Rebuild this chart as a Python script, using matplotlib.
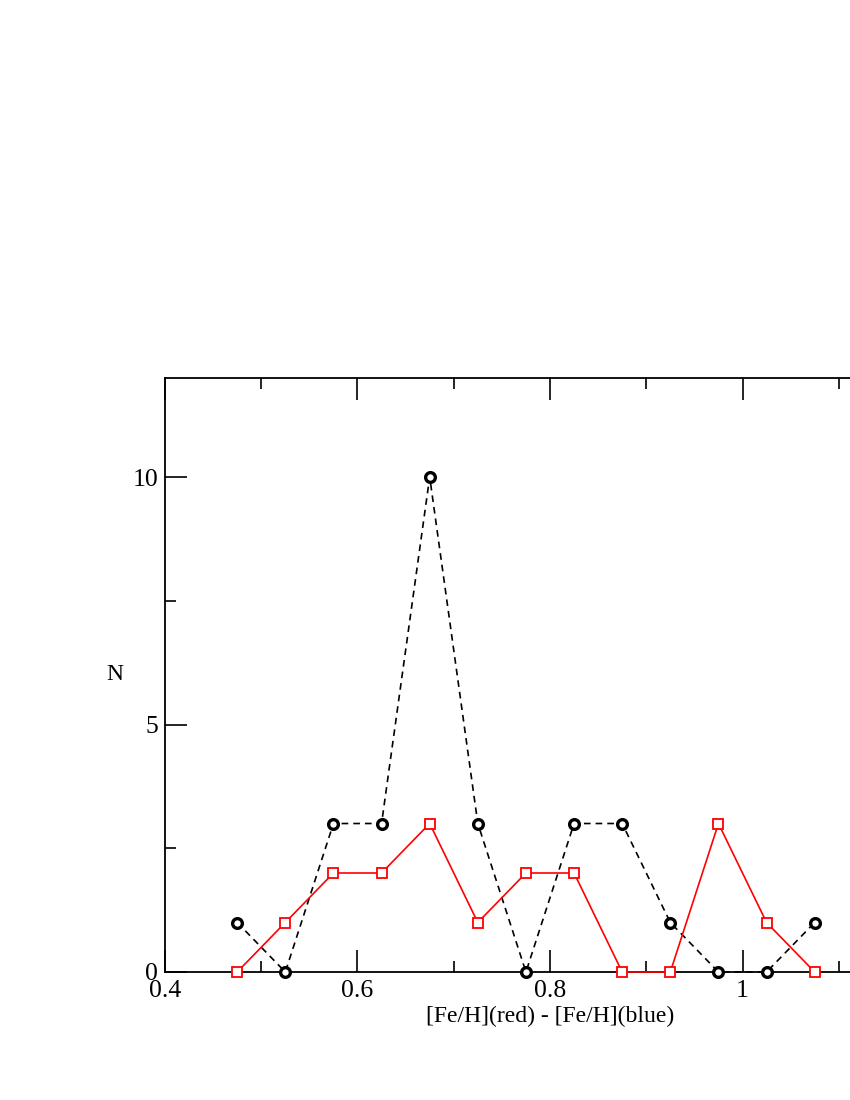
import numpy as np
import matplotlib.pyplot as plt
from matplotlib.ticker import MultipleLocator

# bin centres and counts
bin_centres = [0.475, 0.525, 0.575, 0.625, 0.675, 0.725, 0.775,
               0.825, 0.875, 0.925, 0.975, 1.025, 1.075]
n_black = [1, 0, 3, 3, 10, 3, 0, 3, 3, 1, 0, 0, 1]
n_red = [0, 1, 2, 2, 3, 1, 2, 2, 0, 0, 3, 1, 0]

plt.rcParams['font.family'] = ['Liberation Serif', 'DejaVu Serif']

fig = plt.figure(figsize=(8.5, 11), dpi=100)
# axes runs past the right edge of the page, like the original
ax = fig.add_axes([165 / 850, 128 / 1100, 770 / 850, 594 / 1100])

ax.plot(bin_centres, n_black, color='black', linestyle='--', linewidth=1.2,
        marker='o', markersize=7, markerfacecolor='white',
        markeredgecolor='black', markeredgewidth=2.4, dashes=(4, 3),
        clip_on=False, zorder=3)
ax.plot(bin_centres, n_red, color='red', linestyle='-', linewidth=1.2,
        marker='s', markersize=7, markerfacecolor='white',
        markeredgecolor='red', markeredgewidth=1.3,
        clip_on=False, zorder=3)

ax.set_xlim(0.4, 1.2)
ax.set_ylim(0, 12)
ax.xaxis.set_major_locator(MultipleLocator(0.2))
ax.xaxis.set_minor_locator(MultipleLocator(0.1))
ax.yaxis.set_major_locator(MultipleLocator(5))
ax.yaxis.set_minor_locator(MultipleLocator(2.5))
ax.set_xticks([0.4, 0.6, 0.8, 1.0])
ax.set_xticklabels(['0.4', '0.6', '0.8', '1'])
ax.tick_params(which='both', direction='in', top=True, right=True,
               labelsize=18.5, width=1.2)
ax.tick_params(axis='x', which='both', pad=6)
ax.tick_params(axis='y', which='both', pad=5)
ax.tick_params(which='major', length=16)
ax.tick_params(which='minor', length=8)
for s in ax.spines.values():
    s.set_linewidth(1.3)

ax.set_xlabel('[Fe/H](red) - [Fe/H](blue)', fontsize=17, va='top')
ax.xaxis.set_label_coords(0.5, -0.057)
ax.set_ylabel('N', fontsize=17, rotation=0, ha='center', va='center')
ax.yaxis.set_label_coords(-0.065, 0.5)

plt.savefig('out.png', dpi=100)
